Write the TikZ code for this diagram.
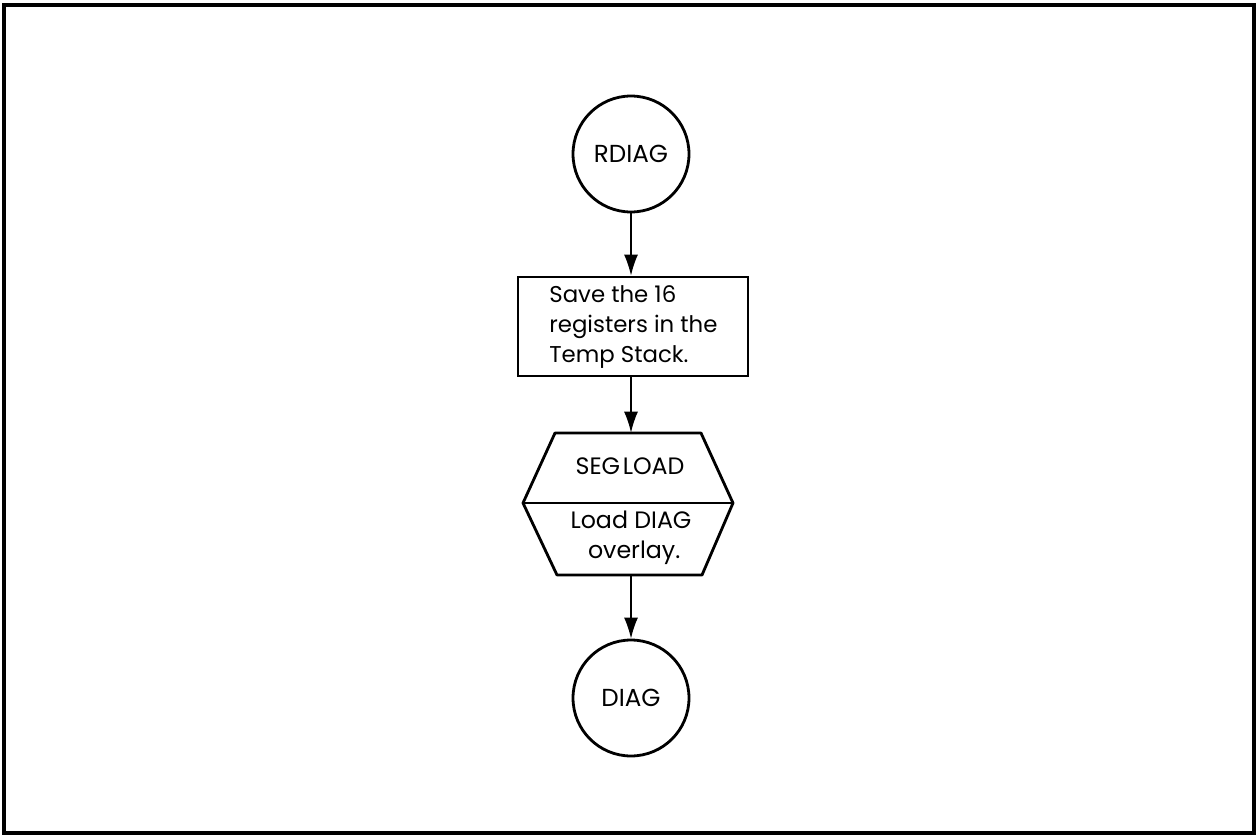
\documentclass[tikz,border=0pt]{standalone}
\usepackage{fontspec}
\setmainfont{Poppins}
\usetikzlibrary{arrows.meta}
\tikzset{
  px/.style={x=0.02cm,y=-0.02cm},
  term/.style={circle,draw,line width=1.6pt,minimum size=2.32cm,inner sep=0pt,font=\fontsize{14}{16}\selectfont},
  procbox/.style={rectangle,draw,line width=1.6pt,minimum width=4.6cm,minimum height=1.98cm,inner sep=0pt},
  txt/.style={font=\fontsize{13.5}{17}\selectfont,align=left,inner sep=0pt},
  flow/.style={line width=0.8pt,-{Latex[length=0.42cm,width=0.28cm]}},
}
\begin{document}
\begin{tikzpicture}[px]
\useasboundingbox (0,0) rectangle (1257,838);
\draw[line width=2pt] (4,5) rectangle (1254,833);
\node[term] (rdiag) at (631,154) {RDIAG};
\node[procbox] (save) at (633,326.5) {};
\node[txt,anchor=west,font=\fontsize{13}{17}\selectfont] (savetxt) at (549,327) {Save the 16\\registers in the\\Temp Stack.};
\node[inner sep=0pt,minimum width=2.9cm,minimum height=2.84cm] (hex) at (630,504) {};
\draw[line width=1.6pt,line join=round] (555,433) -- (701,433) -- (733,503) -- (702,575) -- (557,575) -- (523,503) -- cycle;
\draw[line width=1.6pt] (523,503) -- (733,503);
\node[txt,anchor=center] (seg) at (630,466) {SEG\kern1.5pt LOAD};
\node[txt,align=center,anchor=center] (load) at (631,538) {Load DIAG\\\ overlay.};
\node[term] (diag) at (631,698) {DIAG};
\draw[flow] (rdiag) -- (rdiag|-save.north);
\draw[flow] (rdiag|-save.south) -- (rdiag|-hex.north);
\draw[flow] (rdiag|-hex.south) -- (diag);
\end{tikzpicture}
\end{document}
